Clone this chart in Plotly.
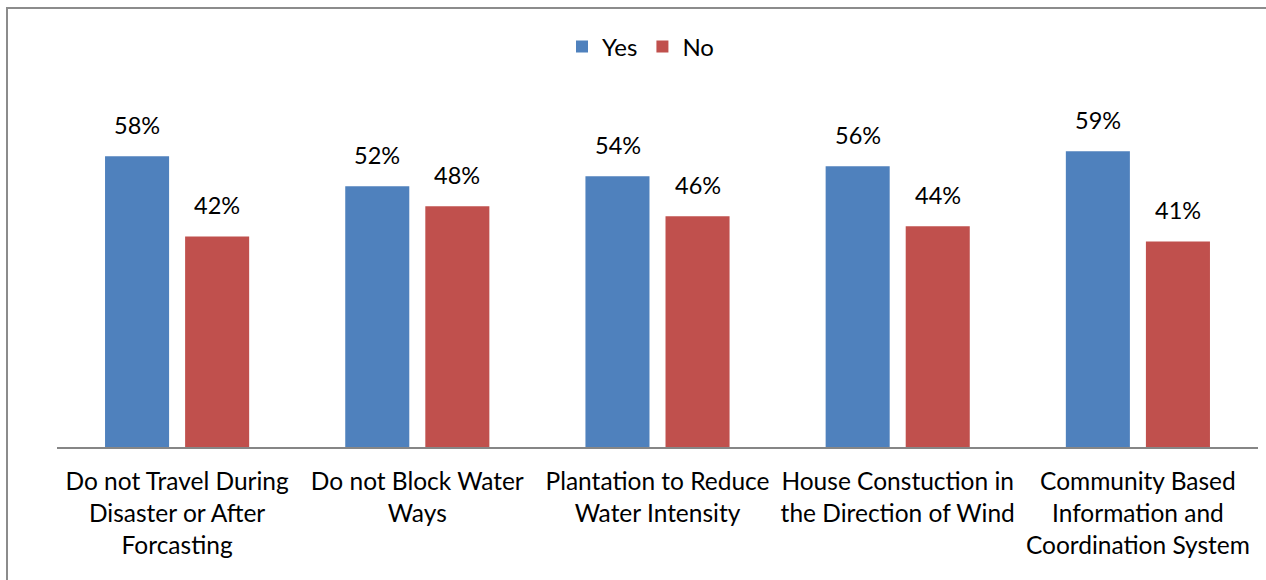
import plotly.graph_objects as go

categories = [
    "Do not Travel During<br>Disaster or After<br>Forcasting",
    "Do not Block Water<br>Ways",
    "Plantation to Reduce<br>Water Intensity",
    "House Constuction in<br>the Direction of Wind",
    "Community Based<br>Information and<br>Coordination System",
]
yes_values = [58, 52, 54, 56, 59]
no_values = [42, 48, 46, 44, 41]

FONT = "Lato"
BLUE = "#4F81BD"
RED = "#C0504D"

fig = go.Figure()
fig.add_trace(go.Bar(name="Yes", x=categories, y=yes_values, marker_color=BLUE,
                     marker_line_width=0))
fig.add_trace(go.Bar(name="No", x=categories, y=no_values, marker_color=RED,
                     marker_line_width=0))

for cat, yv, nv in zip(categories, yes_values, no_values):
    for val, shift in ((yv, -40), (nv, 40)):
        fig.add_annotation(x=cat, y=val, text=f"{val}%", showarrow=False,
                           xshift=shift, yanchor="bottom", yshift=15,
                           font=dict(family=FONT, size=23.5, color="#000000"))

W, H = 1266, 580
L, R, T, B = 57, 8, 96, 133
pw, ph = W - L - R, H - T - B

fig.add_shape(type="rect", xref="paper", yref="paper",
              x0=(7 - L) / pw, x1=(W + 20 - L) / pw,
              y0=(H - B - (H + 20)) / ph, y1=(H - B - 8) / ph,
              line=dict(color="#8C8C8C", width=2), fillcolor="rgba(0,0,0,0)",
              layer="below")

fig.update_layout(
    width=W, height=H,
    margin=dict(l=L, r=R, t=T, b=B, autoexpand=False),
    paper_bgcolor="white", plot_bgcolor="white",
    barmode="group", bargap=1/3, bargroupgap=0.2,
    font=dict(family=FONT, size=24, color="#000000"),
    showlegend=True,
    legend=dict(orientation="h", x=0.5 - 17 / pw, xanchor="center",
                y=(H - B - 47) / ph, yanchor="middle",
                font=dict(family=FONT, size=24),
                itemwidth=30, traceorder="normal"),
    xaxis=dict(showline=True, linecolor="#868686", linewidth=2, ticks="",
               showgrid=False, tickangle=0, ticklabelstandoff=12,
               tickfont=dict(family=FONT, size=24.5)),
    yaxis=dict(range=[0, 70], visible=False, showgrid=False),
)

fig.write_html("out.html")
